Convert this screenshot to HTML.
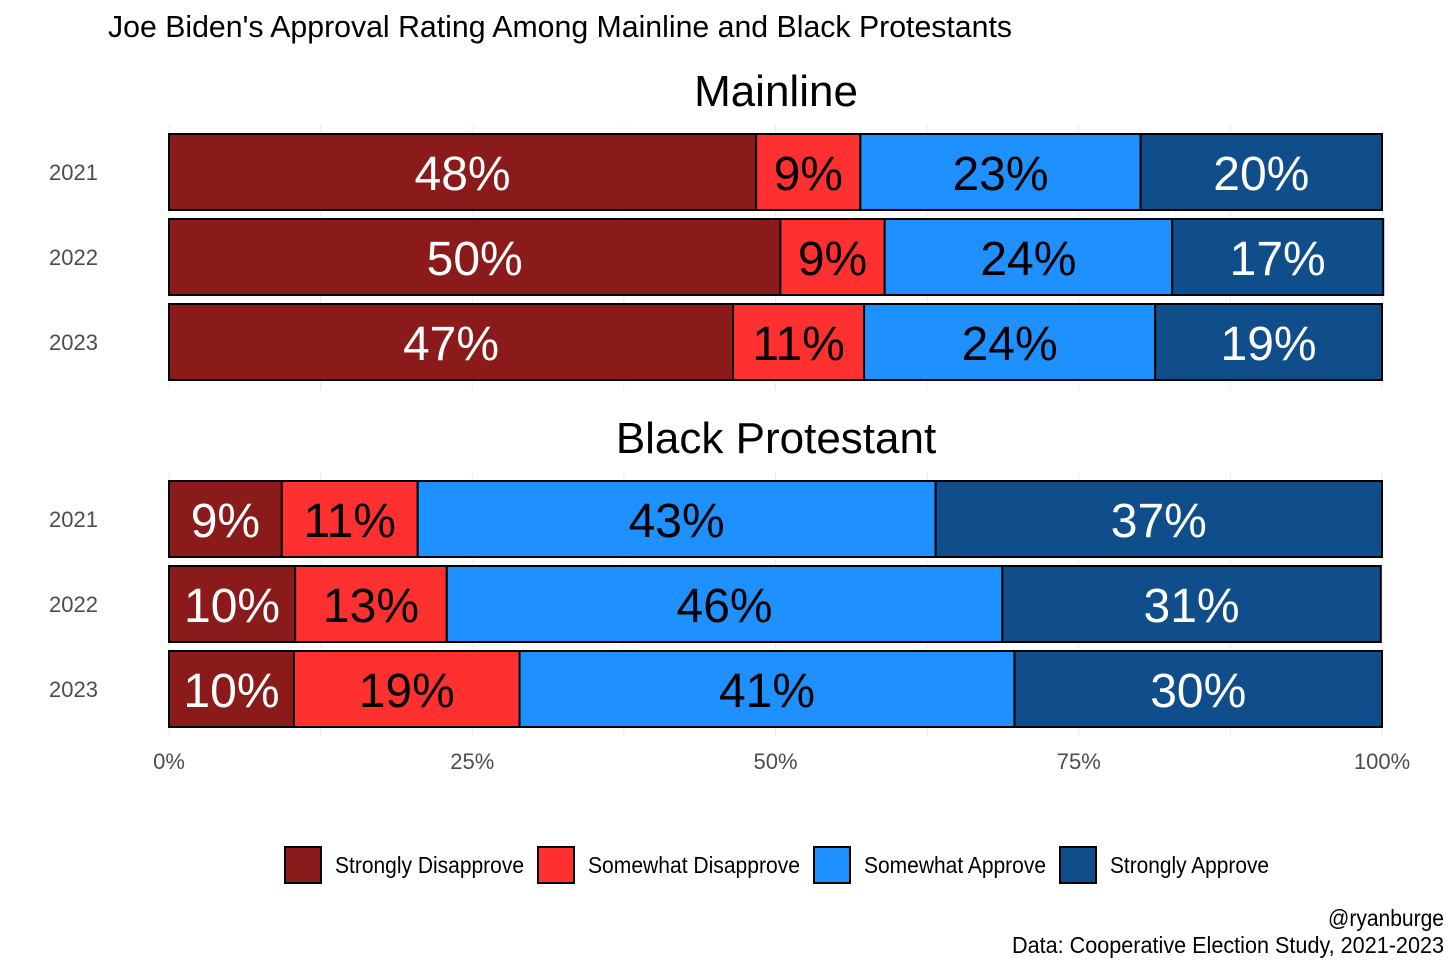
<!DOCTYPE html>
<html><head><meta charset="utf-8"><style>
html,body{margin:0;padding:0;background:#fff;}
svg text{font-family:"Liberation Sans Narrow","Liberation Sans",sans-serif;}
</style></head><body>
<svg id="chart" width="1456" height="971" xmlns="http://www.w3.org/2000/svg">
<text x="108" y="37" font-size="31" fill="#000" textLength="904" lengthAdjust="spacingAndGlyphs">Joe Biden's Approval Rating Among Mainline and Black Protestants</text>
<g id="grid"></g>
<g id="bars"></g>
<g id="legend"></g>
<text x="1444" y="926" font-size="23" text-anchor="end" fill="#000" textLength="116" lengthAdjust="spacingAndGlyphs">@ryanburge</text>
<text x="1444" y="953" font-size="23" text-anchor="end" fill="#000" textLength="432" lengthAdjust="spacingAndGlyphs">Data: Cooperative Election Study, 2021-2023</text>
</svg>
<script>
const categories = ["Strongly Disapprove","Somewhat Disapprove","Somewhat Approve","Strongly Approve"];
const years = ["2021","2022","2023"];
const panels = ["Mainline","Black Protestant"];
const mainlineValues = [[48.4,8.6,23.1,19.9],[50.4,8.6,23.7,17.4],[46.5,10.8,24.0,18.7]];
const blackValues = [[9.3,11.2,42.7,36.8],[10.4,12.5,45.8,31.2],[10.3,18.6,40.8,30.3]];
const tickValues = [0,25,50,75,100];
const tickLabels = ["0%","25%","50%","75%","100%"];
const colors = ["#8B1A1A","#FF3030","#1E90FF","#104E8B"];
const textColors = ["#fff","#000","#000","#fff"];
const legendWidths = [189,212,182,159];

const NS="http://www.w3.org/2000/svg";
const x0=169, x1=1382;
const xs = v => x0 + (x1-x0)*v/100;
function mk(tag, attrs, parent, txt){const e=document.createElementNS(NS,tag);for(const k in attrs)e.setAttribute(k,attrs[k]);if(txt!==undefined)e.textContent=txt;parent.appendChild(e);return e;}

const grid=document.getElementById('grid');
for(let g=0; g<=100; g+=12.5){
  const l=mk('line',{x1:xs(g),x2:xs(g),y1:125,y2:390,stroke:'#ebebeb','stroke-width':1},grid);
  
  
  const l2=mk('line',{x1:xs(g),x2:xs(g),y1:473,y2:736,stroke:'#ebebeb','stroke-width':1},grid);
  
  
}
tickValues.forEach((t,i)=>{
  const tx=mk('text',{x:xs(t),y:769,'font-size':22,fill:'#4d4d4d','text-anchor':'middle'},grid,tickLabels[i]);
  
  
});

const bars=document.getElementById('bars');
const panelData=[mainlineValues,blackValues];
const panelTitleY=[106,453];
const rowCenters=[[172,257,342],[519,604,689]];
const barH=76;
panelData.forEach((vals,p)=>{
  const pt=mk('text',{x:776,y:panelTitleY[p],'font-size':44,'text-anchor':'middle',fill:'#000'},bars,panels[p]);
  
  
  vals.forEach((row,r)=>{
    const cy=rowCenters[p][r];
    const yl=mk('text',{x:98,y:cy+8,'font-size':22,'text-anchor':'end',fill:'#4d4d4d'},bars,years[r]);
    
    
    let acc=0;
    row.forEach((v,c)=>{
      const a=xs(acc), b=xs(acc+v);
      const rect=mk('rect',{x:a,y:cy-barH/2,width:b-a,height:barH,fill:colors[c],stroke:'#000','stroke-width':2},bars);
      
      
      const lab=mk('text',{x:(a+b)/2,y:cy+18,'font-size':48,'text-anchor':'middle',fill:textColors[c]},bars,Math.round(v)+'%');
      
      
      acc+=v;
    });
  });
});

const legend=document.getElementById('legend');
const legX=[285,538,814,1060];
categories.forEach((c,i)=>{
  const r=mk('rect',{x:legX[i],y:847,width:36,height:36,fill:colors[i],stroke:'#000','stroke-width':2},legend);
  
  
  const t=mk('text',{x:legX[i]+50,y:873,'font-size':23,fill:'#000',textLength:legendWidths[i],lengthAdjust:'spacingAndGlyphs'},legend,c);
  
  
});
</script>
</body></html>
